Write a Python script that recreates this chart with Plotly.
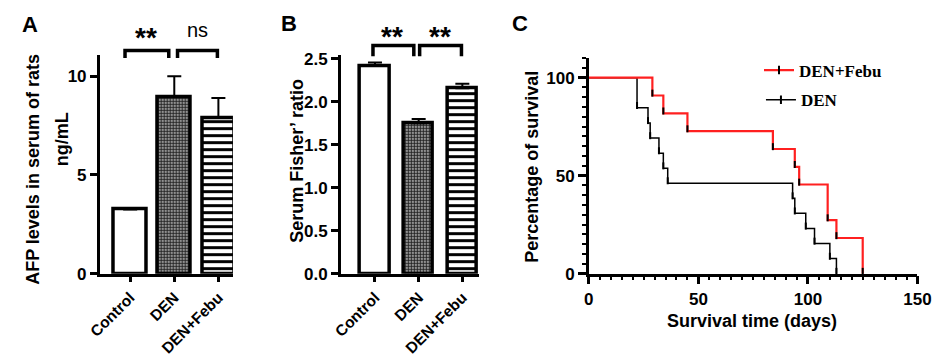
import plotly.graph_objects as go

W, H = 941, 361


def X(px):
    return px / W


def Y(py):
    return 1 - py / H


# ---------------- data ----------------
groups = ["Control", "DEN", "DEN+Febu"]
afp_mean = [3.25, 8.95, 7.9]
afp_err = [0.07, 1.05, 1.0]
fisher_mean = [2.42, 1.75, 2.16]
fisher_err = [0.04, 0.05, 0.05]

febu_days = [0, 29, 34, 45, 84, 94, 96, 109, 113, 125]
febu_surv = [100, 90.9, 81.8, 72.7, 63.6, 54.5, 45.5, 27.3, 18.2, 0]
den_days = [0, 22, 27, 28, 32, 34, 36, 93, 94, 99, 103, 110, 113]
den_surv = [100, 84.6, 76.9, 69.2, 61.5, 53.8, 46.2, 38.5, 30.8, 23.1, 15.4, 7.7, 0]

# ---------------- styles ----------------
SANS = "Liberation Sans"
SERIF = "Liberation Serif"
pattern = dict(
    shape=["", ".", "-"],
    fgcolor=["black", "#222222", "black"],
    bgcolor="white",
    size=[6, 3, 7],
    solidity=[0.3, 0.75, 0.42],
    fillmode="replace",
)

fig = go.Figure()

fig.add_trace(go.Bar(
    x=groups, y=afp_mean, width=0.73,
    marker=dict(color="white", line=dict(color="black", width=3.5), pattern=pattern),
    error_y=dict(type="data", symmetric=False, array=afp_err, arrayminus=[0, 0, 0],
                 thickness=2, width=7, color="black"),
    xaxis="x", yaxis="y", showlegend=False,
))
fig.add_trace(go.Bar(
    x=groups, y=fisher_mean, width=0.67,
    marker=dict(color="white", line=dict(color="black", width=3.5), pattern=pattern),
    error_y=dict(type="data", symmetric=False, array=fisher_err, arrayminus=[0, 0, 0],
                 thickness=2, width=7, color="black"),
    xaxis="x2", yaxis="y2", showlegend=False,
))

# Kaplan-Meier curves
curves = [
    ("DEN", den_days, den_surv, "black", 1.5, "legend2"),
    ("DEN+Febu", febu_days, febu_surv, "#ff2020", 2.2, "legend"),
]
for name, days, surv, col, lw, lg in curves:
    fig.add_trace(go.Scatter(
        x=days, y=surv, mode="lines", line=dict(color=col, width=lw, shape="hv"),
        xaxis="x3", yaxis="y3", showlegend=False,
    ))
    fig.add_trace(go.Scatter(
        x=days[1:], y=[s + 1.2 for s in surv[1:]], mode="markers",
        marker=dict(symbol="line-ns", size=5, line=dict(color="black", width=2)),
        xaxis="x3", yaxis="y3", showlegend=False, cliponaxis=False,
    ))
    fig.add_trace(go.Scatter(
        x=[None], y=[None], mode="lines+markers", name=name,
        line=dict(color=col, width=lw),
        marker=dict(symbol="line-ns", size=6, line=dict(color="black", width=2)),
        xaxis="x3", yaxis="y3", legend=lg, showlegend=True,
    ))

axis_common = dict(
    showline=True, linecolor="black", linewidth=2.5, showgrid=False, zeroline=False,
    ticks="outside", tickcolor="black", tickwidth=2.5, ticklen=7,
    tickfont=dict(family=SANS, size=17, color="black", weight="bold"),
)
cat_font = dict(family=SANS, size=15.5, color="black", weight="bold")

fig.update_layout(
    width=W, height=H, margin=dict(l=0, r=0, t=0, b=0),
    paper_bgcolor="white", plot_bgcolor="white", bargap=0,
    xaxis=dict(axis_common, domain=[X(82), X(219)], range=[-0.69, 2.33], anchor="y",
               tickangle=-45, type="category", tickfont=cat_font, ticklen=6),
    yaxis=dict(axis_common, domain=[Y(272), Y(44)], range=[0, 11.07], anchor="x",
               tickvals=[0, 5, 10]),
    xaxis2=dict(axis_common, domain=[X(330), X(472)], range=[-0.78, 2.38], anchor="y2",
                tickangle=-45, type="category", tickfont=cat_font, ticklen=6),
    yaxis2=dict(axis_common, domain=[Y(272), Y(44)], range=[0, 2.544], anchor="x2",
                tickvals=[0, 0.5, 1.0, 1.5, 2.0, 2.5], tickformat=".1f"),
    xaxis3=dict(axis_common, domain=[X(585), X(923)], range=[0, 150], anchor="y3",
                tickvals=[0, 50, 100, 150], ticklen=8,
                minor=dict(dtick=5, ticks="outside", ticklen=4, tickwidth=2, tickcolor="black")),
    yaxis3=dict(axis_common, domain=[Y(272), Y(47)], range=[0, 110], anchor="x3",
                tickvals=[0, 50, 100], ticklen=8,
                minor=dict(dtick=5, ticks="outside", ticklen=4, tickwidth=2, tickcolor="black")),
    legend=dict(x=X(760), y=Y(60), xanchor="left", yanchor="middle", bgcolor="rgba(0,0,0,0)",
                font=dict(family=SERIF, size=17, color="black", weight="bold")),
    legend2=dict(x=X(762), y=Y(91), xanchor="left", yanchor="middle", bgcolor="rgba(0,0,0,0)",
                 font=dict(family=SERIF, size=17, color="black", weight="bold")),
)

# significance brackets
brackets = [(108, 153, 39, 47), (162, 203, 39, 47), (363, 405, 34, 45), (411, 454, 34, 45)]
for x1, x2, yt, yb in brackets:
    fig.add_shape(type="path", xref="paper", yref="paper",
                  path=f"M{X(x1)},{Y(yb)} L{X(x1)},{Y(yt)} L{X(x2)},{Y(yt)} L{X(x2)},{Y(yb)}",
                  line=dict(color="black", width=3.5))


def note(text, px, py, size, angle=0, family=SANS, weight="bold"):
    fig.add_annotation(text=text, x=X(px), y=Y(py), xref="paper", yref="paper",
                       showarrow=False, textangle=angle, xanchor="center", yanchor="middle",
                       font=dict(family=family, size=size, color="black", weight=weight))


note("**", 130, 26, 28)
note("ns", 183, 18, 20, weight="normal")
note("**", 383, 25, 28)
note("**", 432, 25, 28)

note("A", 10, 12, 22)
note("B", 277, 11, 22)
note("C", 514, 11, 22)

note("AFP levels in serum of rats", 14, 163, 18, angle=-90)
note("ng/mL", 43, 132, 18, angle=-90)
note("Serum Fisher’ ratio", 284, 154, 18, angle=-90)
note("Percentage of survival", 527, 160, 18, angle=-90)
note("Survival time (days)", 753, 321, 18)

fig.write_html("out.html")
